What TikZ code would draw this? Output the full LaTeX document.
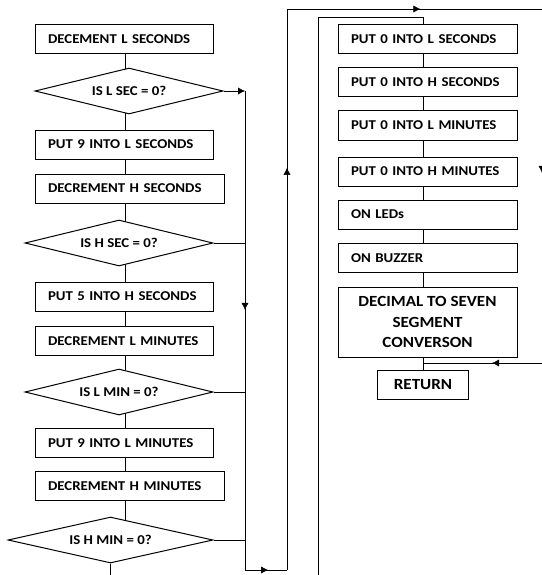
\documentclass[tikz,border=0pt]{standalone}
\usepackage{fontspec}
\setmainfont{Carlito}[FakeStretch=1.1]
\usetikzlibrary{shapes.geometric,arrows.meta,decorations.markings}
\pgfdeclarelayer{background}
\pgfsetlayers{background,main}

\tikzset{
  stepbox/.style={draw, fill=white, minimum height=29pt, inner xsep=13pt,
    text width=#1, align=left, font=\bfseries\fontsize{13.5}{15}\selectfont},
  test/.style={diamond, draw, fill=white, aspect=4, inner sep=0pt,
    minimum width=#1, minimum height=46pt, font=\bfseries\fontsize{13.5}{15}\selectfont},
  bigbox/.style={draw, fill=white, minimum width=179pt, minimum height=70pt,
    align=center, font=\bfseries\fontsize{15.5}{20.5}\selectfont},
  endbox/.style={draw, fill=white, minimum width=91pt, minimum height=29pt,
    font=\bfseries\fontsize{15.5}{18}\selectfont},
  marr/.style={postaction={decorate, decoration={markings,
    mark=at position #1 with {\arrow{Latex[length=7pt,width=7pt]}}}}}
}

\begin{document}
\begin{tikzpicture}[x=1pt, y=-1pt, line width=1pt]
        \useasboundingbox (0,0) rectangle (541,575);

        % left column
        \node[stepbox=152pt] (dls) at (124,39) {DECEMENT L SECONDS};
        \node[test=188pt] (qls) at (129,91) {IS L SEC = 0?};
        \node[stepbox=152pt] (pls) at (124,144.5) {PUT 9 INTO L SECONDS};
        \node[stepbox=163pt] (dhs) at (129.5,188.5) {DECREMENT H SECONDS};
        \node[test=188pt] (qhs) at (119,243) {IS H SEC = 0?};
        \node[stepbox=152pt] (phs) at (124,296.5) {PUT 5 INTO H SECONDS};
        \node[stepbox=152pt] (dlm) at (124,341) {DECREMENT L MINUTES};
        \node[test=188pt] (qlm) at (119,392) {IS L MIN = 0?};
        \node[stepbox=152pt] (plm) at (124,443) {PUT 9 INTO L MINUTES};
        \node[stepbox=163pt] (dhm) at (129.5,486) {DECREMENT H MINUTES};
        \node[test=205pt] (qhm) at (110.5,540) {IS H MIN = 0?};

        % right column
        \node[stepbox=153pt] (zls) at (427.5,39) {PUT 0 INTO L SECONDS};
        \node[stepbox=153pt] (zhs) at (427.5,82.5) {PUT 0 INTO H SECONDS};
        \node[stepbox=153pt] (zlm) at (427.5,125.5) {PUT 0 INTO L MINUTES};
        \node[stepbox=153pt] (zhm) at (427.5,171.5) {PUT 0 INTO H MINUTES};
        \node[stepbox=153pt] (led) at (427.5,214.5) {ON LEDs};
        \node[stepbox=153pt] (buz) at (427.5,258) {ON BUZZER};
        \node[bigbox] (seg) at (427.5,322) {DECIMAL TO SEVEN\\SEGMENT\\CONVERSON};
        \node[endbox] (ret) at (423,384.5) {RETURN};

        \coordinate (lsp) at (125,0);
        \coordinate (jl) at (245,570);
        \coordinate (jr) at (287,570);
        \coordinate (jt) at (287,9);
        \coordinate (je) at (542,9);
        \coordinate (jd) at (542,363);
        \coordinate (kb) at (318,576);
        \coordinate (kt) at (318,17);

        \begin{pgfonlayer}{background}
        \foreach \a/\b in {dls/qls, qls/pls, pls/dhs, dhs/qhs, qhs/phs,
                           phs/dlm, dlm/qlm, qlm/plm, plm/dhm, dhm/qhm}
          \draw (\a.center -| lsp) -- (\b.center -| lsp);
        \end{pgfonlayer}
        \draw (qhm.south) -- (qhm.south |- kb);

        \foreach \a/\b in {zls/zhs, zhs/zlm, zlm/zhm, zhm/led, led/buz, buz/seg, seg/ret}
          \draw (\a.south -| ret) -- (\b.north -| ret);

        % yes branches
        \draw[-{Latex[length=7pt,width=7pt]}] (qls.east) -- (qls.east -| jl);
        \draw (qhs.east) -- (qhs.east -| jl);
        \draw (qlm.east) -- (qlm.east -| jl);
        \draw (qhm.east) -- (qhm.east -| jl);

        % outer loop
        \draw[marr=0.457] (qls.east -| jl) -- (jl);
        \draw[marr=0.55] (jl) -- (jr);
        \draw[marr=0.717] (jr) -- (jt);
        \draw[marr=0.523] (jt) -- (je);
        \draw[marr=0.463] (je) -- (jd);
        \draw[marr=0.42] (jd) -- (jd -| ret);

        \draw (kb) -- (kt) -- (kt -| ret) -- (zls.north -| ret);

\end{tikzpicture}
\end{document}
